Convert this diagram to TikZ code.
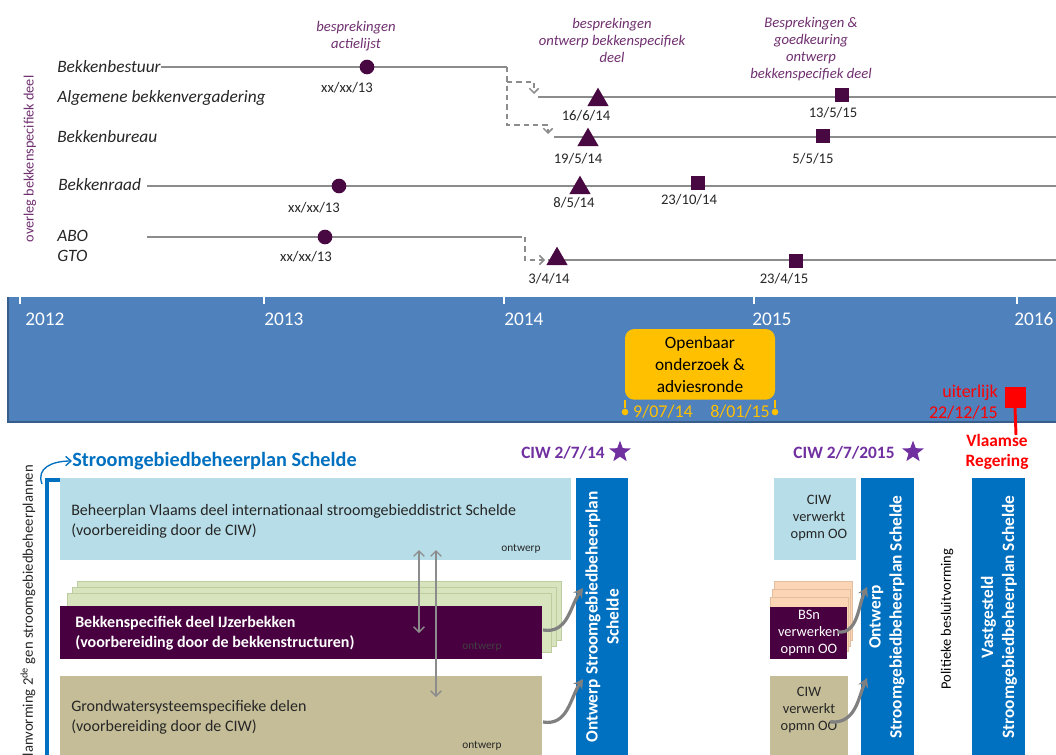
\documentclass[tikz,border=0pt]{standalone}
\usepackage{fontspec}
\setmainfont{Carlito}
\usetikzlibrary{arrows.meta,shapes.geometric}
\definecolor{mpurple}{RGB}{72,8,66}
\definecolor{npurple}{RGB}{112,48,112}
\definecolor{lgray}{RGB}{140,140,140}
\definecolor{bandblue}{RGB}{79,129,189}
\definecolor{bandedge}{RGB}{56,93,138}
\definecolor{oyellow}{RGB}{255,192,0}
\definecolor{colblue}{RGB}{0,112,192}
\definecolor{lblue}{RGB}{183,222,232}
\definecolor{lgreen}{RGB}{215,228,189}
\definecolor{lgreenedge}{RGB}{190,205,160}
\definecolor{boxpurple}{RGB}{72,0,64}
\definecolor{tanbox}{RGB}{196,189,151}
\definecolor{peach}{RGB}{252,213,181}
\definecolor{peachedge}{RGB}{225,190,160}
\definecolor{starpurple}{RGB}{112,48,160}
\definecolor{txt}{RGB}{38,38,38}
\definecolor{arrgray}{RGB}{128,128,128}
\tikzset{
  org/.style={font=\fontsize{13}{15}\selectfont\itshape, text=txt, anchor=west, inner sep=0pt},
  tline/.style={draw=lgray, line width=1.1pt},
  dline/.style={draw=lgray, line width=1.1pt, dash pattern=on 4pt off 3pt, -{Straight Barb[length=3.5pt,width=7pt]}},
  mdot/.style={circle, fill=mpurple, minimum size=11pt, inner sep=0pt},
  mtri/.style={regular polygon, regular polygon sides=3, fill=mpurple, minimum size=18.5pt, inner sep=0pt},
  msq/.style={rectangle, fill=mpurple, minimum size=10.5pt, inner sep=0pt},
  datel/.style={font=\fontsize{11}{13}\selectfont, text=txt, inner sep=0pt},
  notel/.style={font=\fontsize{11}{12.75}\selectfont\itshape, text=npurple, align=center, inner sep=0pt},
  yearl/.style={font=\fontsize{14.5}{16}\selectfont, text=white, anchor=west, inner sep=0pt},
  rbox/.style={inner sep=0pt, outer sep=0pt, anchor=north west},
  btxt/.style={font=\fontsize{12}{15}\selectfont, text=txt, anchor=west, align=left, inner sep=0pt},
  smallt/.style={font=\fontsize{8.5}{10}\selectfont, text=txt, inner sep=0pt},
  ctxt/.style={font=\fontsize{10.8}{13}\selectfont, align=center, inner sep=0pt},
  coltxt/.style={font=\fontsize{13}{15.75}\selectfont\bfseries, text=white, align=center, inner sep=0pt, rotate=90},
  ciwl/.style={font=\fontsize{13}{15}\selectfont\bfseries, text=starpurple, inner sep=0pt},
  pstar/.style={star, star points=5, star point ratio=2.4, fill=starpurple, minimum size=17pt, inner sep=0pt},
  carrow/.style={draw=arrgray, line width=2.4pt, -{Stealth[length=7pt,width=8pt]}},
  darrow/.style={draw=lgray, line width=1pt, {Straight Barb[length=4pt,width=8pt]}-{Straight Barb[length=4pt,width=8pt]}},
}
\begin{document}
\begin{tikzpicture}[x=0.75pt,y=-0.75pt]
\clip (0,0) rectangle (1056,754);
\fill[white] (0,0) rectangle (1056,754);

% ---------- top: overleg ----------
\node[rotate=90, font=\fontsize{10.7}{12}\selectfont, text=npurple, inner sep=0pt] (ov) at (30,159) {overleg bekkenspecifiek deel};

\node[org] (lbb) at (57,67) {Bekkenbestuur};
\node[org] (lab) at (57,98) {Algemene bekkenvergadering};
\node[org] (lbu) at (57,137) {Bekkenbureau};
\node[org] (lbr) at (58,185) {Bekkenraad};
\node[org] (labo) at (57,236) {ABO};
\node[org] (lgto) at (57,256) {GTO};

\coordinate (bbE) at (507,67);
\coordinate (bbF) at (507,82);
\coordinate (bbG) at (507,125);
\coordinate (abA) at (534,82);
\coordinate (abT) at (534,94);
\coordinate (buA) at (548,125);
\coordinate (buT) at (548,134);
\coordinate (abS) at (538,97);
\coordinate (abE) at (1056,97);
\coordinate (buS) at (554,137);
\coordinate (buE) at (1056,137);
\coordinate (brS) at (147,186);
\coordinate (brE) at (1056,186);
\coordinate (aboS) at (147,237);
\coordinate (aboE) at (522,237);
\coordinate (aboF) at (525,237);
\coordinate (gtoA) at (525,260);
\coordinate (gtoT) at (545,260);
\coordinate (gtoS) at (548,260);
\coordinate (gtoE) at (1056,260);

\draw[tline] (lbb.east) -- (bbE);
\draw[dline] (bbE) -- (bbG) -- (buA) -- (buT);
\draw[dline] (bbF) -- (abA) -- (abT);
\draw[tline] (abS) -- (abE);
\draw[tline] (buS) -- (buE);
\draw[tline] (brS) -- (brE);
\draw[tline] (aboS) -- (aboE);
\draw[dline] (aboF) -- (gtoA) -- (gtoT);
\draw[tline] (gtoS) -- (gtoE);

\node[mdot] (m1) at (367,67) {};
\node[mdot] (m2) at (339,186) {};
\node[mdot] (m3) at (325,237) {};
\node[mtri] (t1) at (598,100) {};
\node[mtri] (t2) at (588,140) {};
\node[mtri] (t3) at (580,188) {};
\node[mtri] (t4) at (557,259) {};
\node[msq] (s1) at (842,95) {};
\node[msq] (s2) at (823,136) {};
\node[msq] (s3) at (698,183) {};
\node[msq] (s4) at (796,261) {};

\node[datel] (d1) at (347,88) {xx/xx/13};
\node[datel] (d2) at (314,208) {xx/xx/13};
\node[datel] (d3) at (306,257) {xx/xx/13};
\node[datel] (d4) at (586,116) {16/6/14};
\node[datel] (d5) at (578,159) {19/5/14};
\node[datel] (d6) at (574,203) {8/5/14};
\node[datel] (d7) at (549,279) {3/4/14};
\node[datel] (d8) at (833,113) {13/5/15};
\node[datel] (d9) at (813,159) {5/5/15};
\node[datel] (d10) at (689,200) {23/10/14};
\node[datel] (d11) at (784,279) {23/4/15};

\node[notel] (n1) at (356,36) {besprekingen\\actielijst};
\node[notel] (n2) at (612,40) {besprekingen\\ontwerp bekkenspecifiek\\deel};
\node[notel] (n3) at (811,49) {Besprekingen \&\\goedkeuring\\ontwerp\\bekkenspecifiek deel};

% ---------- band ----------
\fill[bandblue] (8,297) rectangle (1056,422);
\draw[bandedge, line width=1.5pt] (8,297) -- (8,422) -- (1056,422);
\foreach \xx in {20,264,504,754,1017} {
  \draw[white, line width=2pt] (\xx,297) -- (\xx,304);
}
\node[yearl] (y12) at (25,319) {2012};
\node[yearl] (y13) at (264,319) {2013};
\node[yearl] (y14) at (504,319) {2014};
\node[yearl] (y15) at (752,319) {2015};
\node[yearl] (y16) at (1014,319) {2016};

\node[rbox, fill=oyellow, rounded corners=7pt, minimum width=112.5pt, minimum height=53pt] (oo) at (625,329) {};
\node[font=\fontsize{13}{16.5}\selectfont, text=black, align=center, inner sep=0pt] (ootxt) at (700,365) {Openbaar\\onderzoek \&\\adviesronde};
\coordinate (ooL) at (625,400);
\coordinate (ooR) at (775,400);
\node[circle, fill=oyellow, minimum size=5pt, inner sep=0pt] (ooDL) at (625,412) {};
\node[circle, fill=oyellow, minimum size=5pt, inner sep=0pt] (ooDR) at (775,412) {};
\draw[oyellow, line width=1pt] (ooL) -- (ooDL);
\draw[oyellow, line width=1pt] (ooR) -- (ooDR);
\node[font=\fontsize{13.5}{15}\selectfont, text=oyellow, inner sep=0pt] (od1) at (663,412) {9/07/14};
\node[font=\fontsize{13.5}{15}\selectfont, text=oyellow, inner sep=0pt] (od2) at (740,412) {8/01/15};

\node[font=\fontsize{13.5}{16}\selectfont, text=red, align=right, anchor=east, inner sep=0pt] (uit) at (998,402) {uiterlijk\\22/12/15};
\node[rectangle, fill=red, minimum size=15.75pt, inner sep=0pt] (rsq) at (1015,397) {};
\node[font=\fontsize{13}{15}\selectfont\bfseries, text=red, align=center, inner sep=0pt] (vr) at (997,452) {Vlaamse\\Regering};
\coordinate (rEnd) at (1016,435);
\draw[red, line width=2.2pt] (rsq.south) -- (rEnd);

% ---------- bottom ----------
\node[rotate=90, anchor=east, font=\fontsize{11}{13}\selectfont, text=txt, inner sep=0pt] (plan) at (28,465) {planvorming 2\textsuperscript{de} gen stroomgebiedbeheerplannen};
\node[font=\fontsize{15.2}{17}\selectfont\bfseries, text=colblue, anchor=west, inner sep=0pt] (title) at (72,461) {Stroomgebiedbeheerplan Schelde};
\coordinate (brT) at (60,480);
\coordinate (brC) at (47,480);
\coordinate (brB) at (47,760);
\draw[colblue, line width=3pt, line join=miter] (brT) -- (brC) -- (brB);
\coordinate (cStart) at (42,484);
\draw[colblue, line width=1pt, -{Straight Barb[length=4pt,width=7pt]}] (cStart) .. controls (36,468) and (52,461) .. (title.west);

% left group
\node[rbox, fill=lblue, minimum width=383.25pt, minimum height=61.5pt] (bp) at (60,478) {};
\node[btxt] (bptxt) at (71,521) {Beheerplan Vlaams deel internationaal stroomgebieddistrict Schelde\\(voorbereiding door de CIW)};
\node[smallt] (bpo) at (521,549) {ontwerp};

\node[rbox, fill=lgreen, draw=lgreenedge, line width=0.6pt, minimum width=363pt, minimum height=44.25pt] (g3) at (77,581) {};
\node[rbox, fill=lgreen, draw=lgreenedge, line width=0.6pt, minimum width=363pt, minimum height=44.25pt] (g2) at (72,587) {};
\node[rbox, fill=lgreen, draw=lgreenedge, line width=0.6pt, minimum width=363pt, minimum height=44.25pt] (g1) at (67,593) {};
\node[rbox, fill=boxpurple, minimum width=361.5pt, minimum height=39.75pt] (bs) at (60,606) {};
\node[btxt, text=white, font=\fontsize{12}{15}\selectfont\bfseries] (bstxt) at (75,633) {Bekkenspecifiek deel IJzerbekken\\(voorbereiding door de bekkenstructuren)};
\node[smallt, text=black!75] (bso) at (482,647) {ontwerp};

\node[rbox, fill=tanbox, minimum width=361.5pt, minimum height=63pt] (gw) at (60,676) {};
\node[btxt] (gwtxt) at (71,717) {Grondwatersysteemspecifieke delen\\(voorbereiding door de CIW)};
\node[smallt] (gwo) at (482,746) {ontwerp};

\coordinate (a1T) at (419,550);
\coordinate (a1B) at (419,633);
\coordinate (a2T) at (436,550);
\coordinate (a2B) at (436,697);
\draw[darrow] (a1T) -- (a1B);
\draw[darrow] (a2T) -- (a2B);

\node[rbox, fill=colblue, minimum width=39pt, minimum height=211.5pt] (col1) at (576,478) {};
\node[coltxt] (col1t) at (602,617) {Ontwerp Stroomgebiedbeheerplan\\Schelde};

\coordinate (c1a) at (543,630);
\coordinate (c1b) at (583,588);
\coordinate (c2a) at (543,722);
\coordinate (c2b) at (583,679);
\draw[carrow] (c1a) .. controls (568,634) and (570,606) .. (c1b);
\draw[carrow] (c2a) .. controls (568,726) and (570,698) .. (c2b);

\node[ciwl] (ciw1) at (563,453) {CIW 2/7/14};
\node[pstar] (st1) at (620,452) {};

% right group
\node[ciwl] (ciw2) at (844,453) {CIW 2/7/2015};
\node[pstar] (st2) at (913,452) {};

\node[rbox, fill=lblue, minimum width=61.5pt, minimum height=61.5pt] (lb2) at (774,478) {};
\node[ctxt, text=txt] (lb2t) at (819,518) {CIW\\verwerkt\\opmn OO};

\node[rbox, fill=peach, draw=peachedge, line width=0.6pt, minimum width=58.5pt, minimum height=44.25pt] (p3) at (774,581) {};
\node[rbox, fill=peach, draw=peachedge, line width=0.6pt, minimum width=58.5pt, minimum height=43pt] (p2) at (772,589) {};
\node[rbox, fill=peach, draw=peachedge, line width=0.6pt, minimum width=58.5pt, minimum height=41pt] (p1) at (770,597) {};
\node[rbox, fill=boxpurple, minimum width=57.75pt, minimum height=39pt] (bs2) at (770,607) {};
\node[ctxt, text=white] (bs2t) at (809,633) {BSn\\verwerken\\opmn OO};

\node[rbox, fill=tanbox, minimum width=58.5pt, minimum height=63pt] (gw2) at (770,676) {};
\node[ctxt, text=txt] (gw2t) at (809,710) {CIW\\verwerkt\\opmn OO};

\node[rbox, fill=colblue, minimum width=39.75pt, minimum height=211.5pt] (col2) at (861,478) {};
\node[coltxt] (col2t) at (887,617) {Ontwerp\\Stroomgebiedbeheerplan Schelde};

\coordinate (c3a) at (838,632);
\coordinate (c3b) at (867,587);
\coordinate (c4a) at (830,722);
\coordinate (c4b) at (867,678);
\draw[carrow] (c3a) .. controls (858,634) and (858,606) .. (c3b);
\draw[carrow] (c4a) .. controls (856,724) and (858,698) .. (c4b);

\node[rotate=90, font=\fontsize{10.8}{12}\selectfont, text=black, inner sep=0pt] (pol) at (947,619) {Politieke besluitvorming};

\node[rbox, fill=colblue, minimum width=39.75pt, minimum height=211.5pt] (col3) at (972,478) {};
\node[coltxt] (col3t) at (999,617) {Vastgesteld\\Stroomgebiedbeheerplan Schelde};
\end{tikzpicture}
\end{document}
